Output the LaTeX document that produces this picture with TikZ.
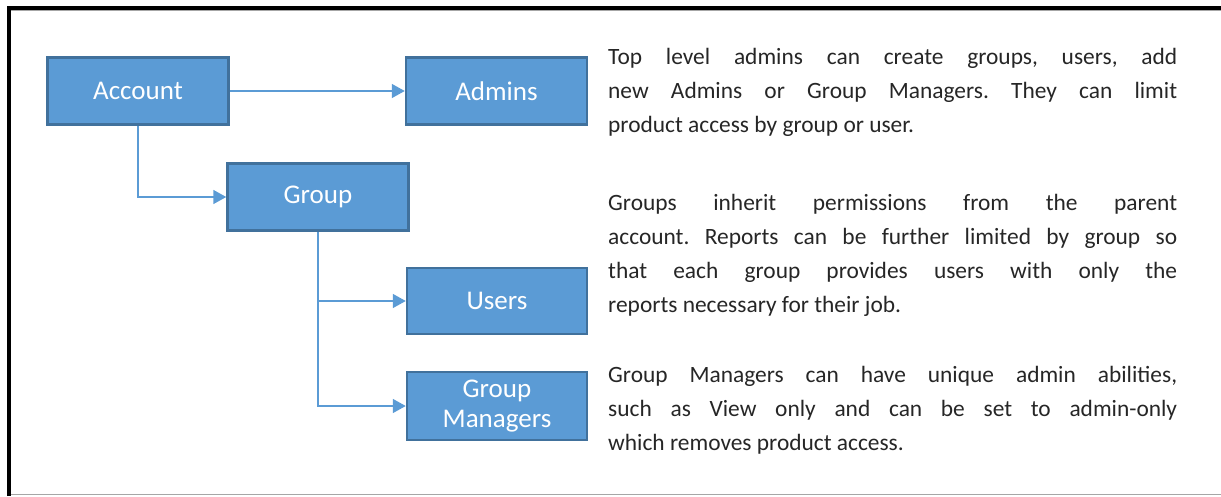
\documentclass[tikz,border=0pt]{standalone}
\usepackage{fontspec}
\setmainfont{Carlito}
\usetikzlibrary{arrows.meta}
\definecolor{boxfill}{HTML}{5B9BD5}
\definecolor{boxedge}{HTML}{41719C}
\definecolor{bodytext}{HTML}{262626}
\hyphenpenalty=10000
\frenchspacing
\begin{document}
\begin{tikzpicture}[x=1pt,y=-1pt,
  rolebox/.style={draw=boxedge, line width=2.5pt, fill=boxfill, text=white,
    minimum width=181pt, minimum height=67pt, inner sep=0pt, align=center,
    font=\fontsize{27}{30}\selectfont},
  link/.style={draw=boxfill, line width=1.6pt, -{Triangle[length=13pt,width=14pt]}},
  note/.style={anchor=base west, text width=569pt, align=justify, inner sep=0pt,
    text=bodytext, font=\fontsize{23.4}{34}\selectfont}]
\useasboundingbox (0,0) rectangle (1221,496);
% frame
\draw[gray!70, line width=1pt] (10,10) rectangle (1230,494);
\draw[black, line width=4pt] (8.5,496) -- (8.5,8) -- (1221,8);
% boxes
\node[rolebox] (account) at (138,91) {Account};
\node[rolebox] (admins) at (496.5,91) {Admins};
\node[rolebox] (group) at (318,197) {Group};
\node[rolebox, minimum width=180pt, minimum height=66pt] (users) at (497,301) {Users};
\node[rolebox, minimum width=180pt, minimum height=68pt] (managers) at (497,406) {Group\\Managers};
% connectors
\draw[link] (account.east) -- (admins.west);
\draw[link] (account.south) |- (group.west);
\draw[link] (group.south) |- (users.west);
\draw[link] (group.south) |- (managers.west);
% notes
\node[note] (topnote) at (608,64) {Top level admins can create groups, users, add\linebreak new Admins or Group Managers. They can limit\linebreak product access by group or user.};
\node[note] (groupnote) at (608,210) {Groups inherit permissions from the parent\linebreak account. Reports can be further limited by group so\linebreak that each group provides users with only the\linebreak reports necessary for their job.};
\node[note] (managernote) at (608,382) {Group Managers can have unique admin abilities,\linebreak such as View only and can be set to admin-only\linebreak which removes product access.};
\end{tikzpicture}
\end{document}
